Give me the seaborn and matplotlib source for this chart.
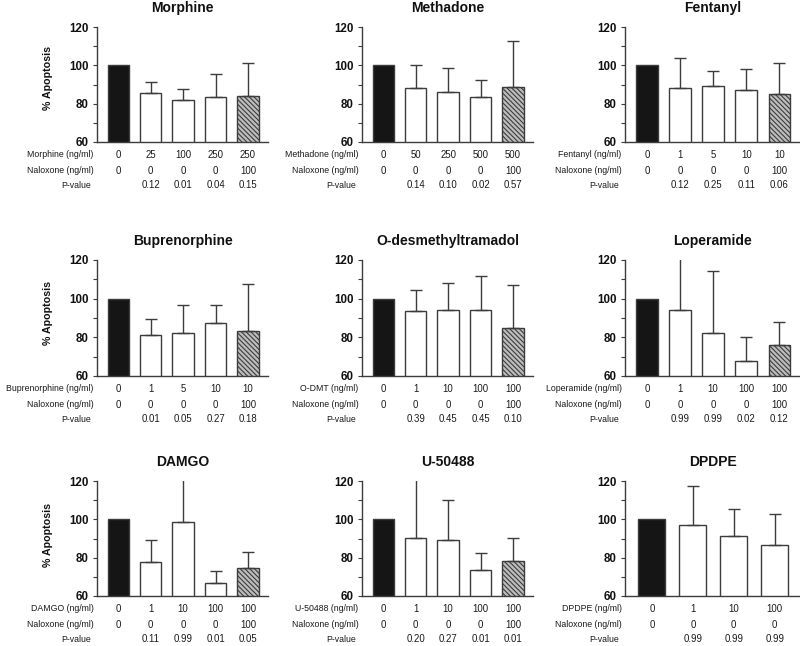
import matplotlib
matplotlib.use("Agg")
import matplotlib.pyplot as plt
import seaborn as sns
import numpy as np
import pandas as pd

# ---------------- data ----------------
titles = ["Morphine", "Methadone", "Fentanyl",
          "Buprenorphine", "O-desmethyltramadol", "Loperamide",
          "DAMGO", "U-50488", "DPDPE"]
drug_labels = ["Morphine (ng/ml)", "Methadone (ng/ml)", "Fentanyl (ng/ml)",
               "Buprenorphine (ng/ml)", "O-DMT (ng/ml)", "Loperamide (ng/ml)",
               "DAMGO (ng/ml)", "U-50488 (ng/ml)", "DPDPE (ng/ml)"]
drug_conc = [["0", "25", "100", "250", "250"],
             ["0", "50", "250", "500", "500"],
             ["0", "1", "5", "10", "10"],
             ["0", "1", "5", "10", "10"],
             ["0", "1", "10", "100", "100"],
             ["0", "1", "10", "100", "100"],
             ["0", "1", "10", "100", "100"],
             ["0", "1", "10", "100", "100"],
             ["0", "1", "10", "100"]]
naloxone_conc = [["0", "0", "0", "0", "100"],
                 ["0", "0", "0", "0", "100"],
                 ["0", "0", "0", "0", "100"],
                 ["0", "0", "0", "0", "100"],
                 ["0", "0", "0", "0", "100"],
                 ["0", "0", "0", "0", "100"],
                 ["0", "0", "0", "0", "100"],
                 ["0", "0", "0", "0", "100"],
                 ["0", "0", "0", "0"]]
p_values = [["", "0.12", "0.01", "0.04", "0.15"],
            ["", "0.14", "0.10", "0.02", "0.57"],
            ["", "0.12", "0.25", "0.11", "0.06"],
            ["", "0.01", "0.05", "0.27", "0.18"],
            ["", "0.39", "0.45", "0.45", "0.10"],
            ["", "0.99", "0.99", "0.02", "0.12"],
            ["", "0.11", "0.99", "0.01", "0.05"],
            ["", "0.20", "0.27", "0.01", "0.01"],
            ["", "0.99", "0.99", "0.99"]]
means = [[100, 85.7, 82.1, 83.3, 84.0],
         [100, 88.2, 86.3, 83.7, 88.7],
         [100, 88.2, 89.2, 87.1, 85.0],
         [100, 81.4, 82.2, 87.6, 83.1],
         [100, 93.6, 94.0, 94.3, 84.7],
         [100, 94.1, 82.4, 67.9, 75.9],
         [100, 77.9, 98.6, 66.6, 74.8],
         [100, 90.3, 89.0, 73.7, 78.1],
         [100, 96.9, 91.3, 86.4]]
error_tops = [[100, 91.1, 87.5, 95.3, 101.2],
              [100, 100.3, 98.8, 92.5, 112.7],
              [100, 103.7, 97.2, 98.3, 101.0],
              [100, 89.3, 96.7, 96.7, 107.6],
              [100, 104.5, 108.2, 111.6, 107.2],
              [100, 124.0, 114.3, 80.3, 87.8],
              [100, 89.4, 124.0, 73.0, 83.1],
              [100, 124.0, 110.1, 82.4, 90.1],
              [100, 117.6, 105.4, 102.8]]
y_label = "% Apoptosis"
nal_label = "Naloxone (ng/ml)"
p_label = "P-value"
y_ticks = [60, 80, 100, 120]
y_minor = [70, 90, 110]

# ---------------- style ----------------
sns.set_theme(style="ticks")
plt.rcParams["font.family"] = ["Liberation Sans", "DejaVu Sans"]
plt.rcParams["hatch.linewidth"] = 0.8

LINE = "#3c3c3c"
BLACK = "#151515"

fig = plt.figure(figsize=(8, 6.46), dpi=100)
W, H = 800, 646
lefts = [97, 362, 625]
widths = [171, 171, 175]
tops = [27, 260, 481]
bottoms = [142, 376, 596]
label_y = [0.555, 0.545, 0.53]
row_offsets = [-9.3, -20.6, -31.2]

for k in range(9):
    r, c = divmod(k, 3)
    ax = fig.add_axes([lefts[c] / W, (H - bottoms[r]) / H,
                       widths[c] / W, (bottoms[r] - tops[r]) / H])
    n = len(means[k])
    df = pd.DataFrame({"cond": list(range(n)), "val": means[k]})
    sns.barplot(data=df, x="cond", y="val", ax=ax, width=0.66,
                color="white", edgecolor=LINE, linewidth=1.0,
                errorbar=None, saturation=1)
    for i, p in enumerate(ax.patches):
        if i == 0:
            p.set_facecolor(BLACK)
        elif naloxone_conc[k][i] != "0":
            p.set_facecolor("#bdbdbd")
            p.set_hatch("\\\\\\\\\\\\\\")
            p.set_edgecolor(LINE)
    xs = np.arange(1, n)
    m = np.array(means[k][1:])
    t = np.array(error_tops[k][1:])
    ax.errorbar(xs, m, yerr=[np.zeros_like(m), t - m], fmt="none",
                ecolor=LINE, elinewidth=1.0, capsize=4, capthick=1.0,
                zorder=1)
    ax.set_ylim(60, 120)
    ax.set_xlim(-0.66, n - 0.38)
    ax.set_xticks([])
    ax.set_yticks(y_ticks)
    ax.set_yticks(y_minor, minor=True)
    ax.set_yticklabels([str(v) for v in y_ticks], fontsize=8.3,
                       fontweight="bold", color="#111111")
    ax.tick_params(axis="y", which="both", direction="out", length=3,
                   width=0.8, color=LINE, pad=3)
    ax.set_xlabel("")
    ax.set_ylabel("")
    for s in ["top", "right"]:
        ax.spines[s].set_visible(False)
    for s in ["left", "bottom"]:
        ax.spines[s].set_color(LINE)
        ax.spines[s].set_linewidth(1.0)
    ax.set_title(titles[k], fontsize=10, fontweight="bold", pad=10.5,
                 color="#111111")
    if c == 0:
        ax.set_ylabel(y_label, fontsize=7.7, fontweight="bold",
                      color="#111111")
        ax.yaxis.set_label_coords(-0.257, label_y[r])

    # table beneath
    rows = [(drug_labels[k], drug_conc[k]),
            (nal_label, naloxone_conc[k]),
            (p_label, p_values[k])]
    for j, (lab, vals) in enumerate(rows):
        off = row_offsets[j]
        ax.annotate(lab, xy=(0, 0), xycoords="axes fraction",
                    xytext=(-2.5 if j < 2 else -4, off),
                    textcoords="offset points", ha="right", va="center",
                    fontsize=6.3, color="#1a1a1a", annotation_clip=False)
        for i, v in enumerate(vals):
            ax.annotate(v, xy=(i, 0), xycoords=ax.get_xaxis_transform(),
                        xytext=(0, off), textcoords="offset points",
                        ha="center", va="center", fontsize=6.9,
                        color="#1a1a1a", annotation_clip=False)

fig.savefig("out.png", dpi=100)
